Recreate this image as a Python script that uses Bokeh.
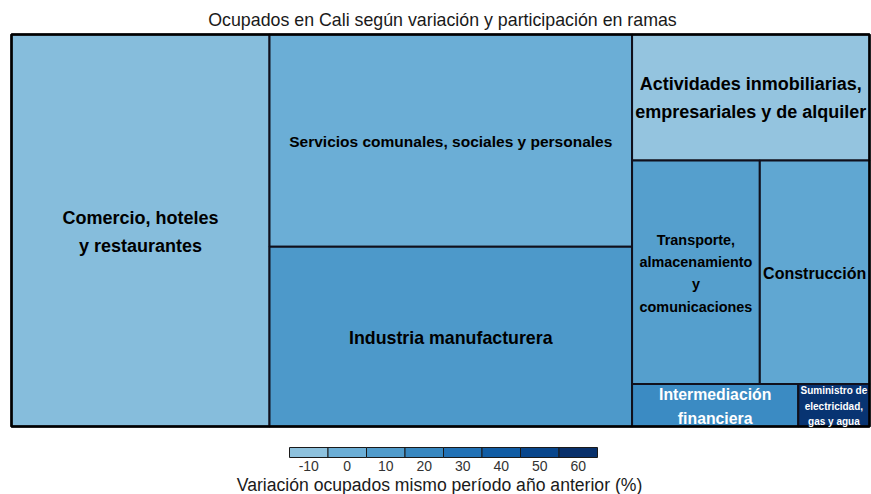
import numpy as np
from bokeh.plotting import figure
from bokeh.models import ColumnDataSource, Range1d
from bokeh.core.properties import value
from bokeh.embed import file_html
from bokeh.resources import INLINE

# ---------------- data ----------------
titulo = "Ocupados en Cali según variación y participación en ramas"
titulo_leyenda = "Variación ocupados mismo período año anterior (%)"
ramas = [
    "Comercio, hoteles y restaurantes",
    "Servicios comunales, sociales y personales",
    "Industria manufacturera",
    "Actividades inmobiliarias, empresariales y de alquiler",
    "Transporte, almacenamiento y comunicaciones",
    "Construcción",
    "Intermediación financiera",
    "Suministro de electricidad, gas y agua",
]
etiquetas = [
    "Comercio, hoteles\ny restaurantes",
    "Servicios comunales, sociales y personales",
    "Industria manufacturera",
    "Actividades inmobiliarias,\nempresariales y de alquiler",
    "Transporte,\nalmacenamiento\ny\ncomunicaciones",
    "Construcción",
    "Intermediación\nfinanciera",
    "Suministro de\nelectricidad,\ngas y agua",
]
participacion = [30.1, 22.9, 19.4, 8.9, 8.5, 7.3, 2.1, 0.9]   # % of employed
variacion = [-8, 0, 11, -12, 8, 4, 18, 58]                     # % change
ticks_leyenda = [-10, 0, 10, 20, 30, 40, 50, 60]
blues9 = ["#F7FBFF", "#DEEBF7", "#C6DBEF", "#9ECAE1", "#6BAED6",
          "#4292C6", "#2171B5", "#08519C", "#08306B"]

# ---------------- styles ----------------
tam_etiquetas = ["18px", "15.5px", "17.8px", "18px", "14.4px", "16px", "15.8px", "10px"]
W, H = 858.0, 392.0          # treemap size (px)
OX, OY = 11.0, 34.0          # treemap origin (px)
FONT = "Liberation Sans"


def hex2rgb(h):
    h = h.lstrip("#")
    return np.array([int(h[i:i + 2], 16) for i in (0, 2, 4)], dtype=float)


def color_for(v, lo=-60.0, hi=60.0):
    t = min(max((v - lo) / (hi - lo), 0.0), 1.0) * (len(blues9) - 1)
    i = int(np.floor(t))
    if i >= len(blues9) - 1:
        return blues9[-1]
    f = t - i
    c = hex2rgb(blues9[i]) * (1 - f) + hex2rgb(blues9[i + 1]) * f
    return "#%02x%02x%02x" % tuple(int(round(x)) for x in c)


# ---------------- pivot-by-size treemap layout ----------------
def pivot_layout(items, x, y, w, h, out):
    if not items or w <= 0 or h <= 0:
        return
    if len(items) == 1:
        out[items[0][0]] = (x, y, w, h)
        return
    total = sum(s for _, s in items)
    p = max(range(len(items)), key=lambda k: items[k][1])
    L1, P, rest = items[:p], items[p], items[p + 1:]
    s1 = sum(s for _, s in L1)
    wide = w >= h
    best, bestk = None, 0
    for k in range(len(rest) + 1):
        s2 = sum(s for _, s in rest[:k])
        if wide:
            wp = w * (P[1] + s2) / total
            hp = h * P[1] / (P[1] + s2)
        else:
            hp = h * (P[1] + s2) / total
            wp = w * P[1] / (P[1] + s2)
        ar = max(wp / hp, hp / wp)
        if best is None or ar < best:
            best, bestk = ar, k
    L2, L3 = rest[:bestk], rest[bestk:]
    s2 = sum(s for _, s in L2)
    if wide:
        w1 = w * s1 / total
        wp = w * (P[1] + s2) / total
        hp = h * P[1] / (P[1] + s2)
        pivot_layout(L1, x, y, w1, h, out)
        out[P[0]] = (x + w1, y, wp, hp)
        pivot_layout(L2, x + w1, y + hp, wp, h - hp, out)
        pivot_layout(L3, x + w1 + wp, y, w - w1 - wp, h, out)
    else:
        h1 = h * s1 / total
        hp = h * (P[1] + s2) / total
        wp = w * P[1] / (P[1] + s2)
        pivot_layout(L1, x, y, w, h1, out)
        out[P[0]] = (x, y + h1, wp, hp)
        pivot_layout(L2, x + wp, y + h1, w - wp, hp, out)
        pivot_layout(L3, x, y + h1 + hp, w, h - h1 - hp, out)


order = sorted(range(len(ramas)), key=lambda i: -participacion[i])
rects = {}
pivot_layout([(i, participacion[i]) for i in order], 0.0, 0.0, W, H, rects)

left = [rects[i][0] for i in range(len(ramas))]
top = [rects[i][1] for i in range(len(ramas))]
right = [rects[i][0] + rects[i][2] for i in range(len(ramas))]
bottom = [rects[i][1] + rects[i][3] for i in range(len(ramas))]
fills = [color_for(v) for v in variacion]
txtcol = ["white" if v > 14 else "black" for v in variacion]

src = ColumnDataSource(dict(
    left=left, right=right, top=top, bottom=bottom, fill=fills,
    cx=[(a + b) / 2 for a, b in zip(left, right)],
    cy=[(a + b) / 2 + 1 for a, b in zip(top, bottom)],
    lab=etiquetas, size=tam_etiquetas, tc=txtcol, rama=ramas,
))

p = figure(width=871, height=494, output_backend="svg", toolbar_location=None,
           x_range=Range1d(-OX, 871 - OX), y_range=Range1d(494 - OY, -OY),
           x_axis_location=None, y_axis_location=None, min_border=0)
p.grid.visible = False
p.outline_line_color = None
p.background_fill_color = "white"
p.border_fill_color = "white"

p.quad(left="left", right="right", top="top", bottom="bottom", source=src,
       fill_color="fill", line_color="#10101c", line_width=2)
p.quad(left=[0], right=[W], top=[0], bottom=[H], fill_color=None,
       line_color="black", line_width=2.5)
p.text(x="cx", y="cy", text="lab", source=src, text_align="center",
       text_baseline="middle", text_font=value(FONT), text_font_style="bold",
       text_font_size="size", text_color="tc", text_line_height=1.4)

# title
p.text(x=[W / 2 + 2], y=[19 - OY], text=[titulo], text_align="center",
       text_baseline="middle", text_font=value(FONT), text_font_size="17.8px",
       text_color="#1a1a1a")

# legend (colour key)
leg_x0, leg_sw, leg_y0, leg_h = 289.0 - OX, 38.5, 447.0 - OY, 10.0
leg_cols = [color_for(v) for v in ticks_leyenda]
lx = [leg_x0 + leg_sw * (v - ticks_leyenda[0]) / (ticks_leyenda[1] - ticks_leyenda[0])
      for v in ticks_leyenda]
p.quad(left=lx, right=[x + leg_sw for x in lx], top=[leg_y0] * len(lx),
       bottom=[leg_y0 + leg_h] * len(lx), fill_color=leg_cols,
       line_color="#1a1a1a", line_width=1)
p.text(x=[x + leg_sw / 2 for x in lx], y=[465 - OY] * len(lx),
       text=[str(t) for t in ticks_leyenda], text_align="center",
       text_baseline="middle", text_font=value(FONT), text_font_size="14px",
       text_color="#333333")
p.text(x=[leg_x0 + leg_sw * len(lx) / 2 - 4], y=[484 - OY], text=[titulo_leyenda],
       text_align="center", text_baseline="middle", text_font=value(FONT),
       text_font_size="17.6px", text_color="#1a1a1a")

open("out.html", "w").write(file_html(p, INLINE))
